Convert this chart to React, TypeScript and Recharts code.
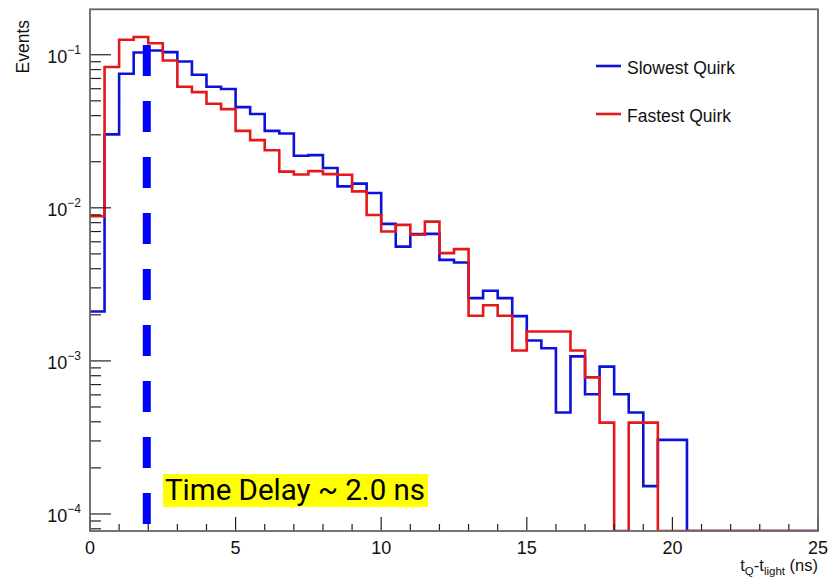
import { LineChart, Line, XAxis, YAxis, ReferenceLine } from "recharts"

// bin low edges (0.5 ns bins)
const BIN_LOW = [
  0, 0.5, 1, 1.5, 2, 2.5, 3, 3.5, 4, 4.5,
  5, 5.5, 6, 6.5, 7, 7.5, 8, 8.5, 9, 9.5,
  10, 10.5, 11, 11.5, 12, 12.5, 13, 13.5, 14, 14.5,
  15, 15.5, 16, 16.5, 17, 17.5, 18, 18.5, 19, 19.5,
  20, 20.5, 21, 21.5, 22, 22.5, 23, 23.5, 24, 24.5,
]
const X_MAX = 25

const SLOWEST = [
  0.0021, 0.0302, 0.0751, 0.1035, 0.1067, 0.104, 0.0904, 0.074, 0.0618, 0.0597,
  0.0455, 0.041, 0.0318, 0.0306, 0.0219, 0.0221, 0.0182, 0.0138, 0.0144, 0.0125,
  0.00785, 0.00558, 0.00673, 0.00676, 0.00457, 0.00439, 0.00257, 0.00287, 0.00257, 0.00196,
  0.00136, 0.00121, 0.00046, 0.00107, 0.000605, 0.000918, 0.000605, 0.00046, 0.000152, 0.000305,
  0.000305, 0, 0, 0, 0, 0, 0, 0, 0, 0,
]

const FASTEST = [
  0.0088, 0.0831, 0.1253, 0.1305, 0.119, 0.0918, 0.0618, 0.057, 0.0478, 0.0441,
  0.0318, 0.0277, 0.0238, 0.01725, 0.01652, 0.01738, 0.0166, 0.01643, 0.0128, 0.00897,
  0.007, 0.00774, 0.00667, 0.00813, 0.00506, 0.00537, 0.00197, 0.00231, 0.00197, 0.00117,
  0.001556, 0.001556, 0.001556, 0.00117, 0.000781, 0.000395, 0, 0.000395, 0.000395, 0,
  0, 0, 0, 0, 0, 0, 0, 0, 0, 0,
]

const X_TICKS = [0, 1, 2, 3, 4, 5, 6, 7, 8, 9, 10, 11, 12, 13, 14, 15, 16, 17, 18, 19, 20, 21, 22, 23, 24, 25]
const Y_TICKS = [
  8e-5, 9e-5,
  1e-4, 2e-4, 3e-4, 4e-4, 5e-4, 6e-4, 7e-4, 8e-4, 9e-4,
  1e-3, 2e-3, 3e-3, 4e-3, 5e-3, 6e-3, 7e-3, 8e-3, 9e-3,
  1e-2, 2e-2, 3e-2, 4e-2, 5e-2, 6e-2, 7e-2, 8e-2, 9e-2,
  1e-1,
]
const Y_MIN = 7.74e-5
const Y_MAX = 0.199

const DELAY = 1.95
const DELAY_TOP = 0.116

const BLUE = "#0d12d9"
const RED = "#e3191e"

// empty bins sit on the bottom of the frame, like ROOT draws them
const floor = (v: number) => (v > 0 ? v : Y_MIN)

const rows = BIN_LOW.map((t, i) => ({ t, slow: floor(SLOWEST[i]), fast: floor(FASTEST[i]) }))
rows.push({ t: X_MAX, slow: floor(SLOWEST[SLOWEST.length - 1]), fast: floor(FASTEST[FASTEST.length - 1]) })

const FONT = "'Liberation Sans', Arial, Helvetica, sans-serif"

function XTick({ x, y, payload }: any) {
  const v = payload.value
  const major = v % 5 === 0
  return (
    <g>
      <line x1={x} x2={x} y1={y} y2={y - (major ? 14 : 7)} stroke="#222" strokeWidth={1.2} />
      {major && (
        <text x={x} y={y + 23} textAnchor="middle" fontSize={18} fill="#111" fontFamily={FONT}>
          {v}
        </text>
      )}
    </g>
  )
}

function YTick({ x, y, payload }: any) {
  const v = payload.value
  const lg = Math.log10(v)
  const exp = Math.round(lg)
  const major = Math.abs(lg - exp) < 1e-6
  return (
    <g>
      <line x1={x} x2={x + (major ? 21 : 11)} y1={y} y2={y} stroke="#222" strokeWidth={1.2} />
      {major && (
        <text x={x - 9} y={y + 8} textAnchor="end" fontSize={18} fill="#111" fontFamily={FONT}>
          10
          <tspan dy={-9} fontSize={12}>{`\u2212${-exp}`}</tspan>
        </text>
      )}
    </g>
  )
}

export default function App() {
  return (
    <div style={{ position: "relative", width: 831, height: 579, background: "#fff" }}>
      <style>{"body{margin:0}"}</style>
      <LineChart
        width={831}
        height={579}
        data={rows}
        margin={{ top: 9, right: 13, bottom: 0, left: 0 }}
      >
        <XAxis
          dataKey="t"
          type="number"
          domain={[0, X_MAX]}
          ticks={X_TICKS}
          interval={0}
          height={48}
          tickSize={0}
          tickMargin={0}
          axisLine={false}
          tickLine={false}
          tick={<XTick />}
        />
        <YAxis
          type="number"
          scale="log"
          domain={[Y_MIN, Y_MAX]}
          allowDataOverflow
          ticks={Y_TICKS}
          interval={0}
          width={90}
          tickSize={0}
          tickMargin={0}
          axisLine={false}
          tickLine={false}
          tick={<YTick />}
        />
        <Line
          type="stepAfter"
          dataKey="slow"
          stroke={BLUE}
          strokeWidth={2.6}
          dot={false}
          isAnimationActive={false}
        />
        <Line
          type="stepAfter"
          dataKey="fast"
          stroke={RED}
          strokeWidth={2.6}
          dot={false}
          isAnimationActive={false}
        />
        <ReferenceLine
          segment={[
            { x: DELAY, y: DELAY_TOP },
            { x: DELAY, y: Y_MIN },
          ]}
          stroke="#0000ff"
          strokeWidth={8}
          strokeDasharray="31 25"
          ifOverflow="visible"
        />
      </LineChart>

      <svg
        width={831}
        height={579}
        style={{ position: "absolute", left: 0, top: 0, pointerEvents: "none" }}
        fontFamily={FONT}
      >
        <rect x={90} y={9.3} width={728} height={521.7} fill="none" stroke="#666" strokeWidth={1.8} />

        <text transform="translate(29,20) rotate(-90)" textAnchor="end" fontSize={17.5} fill="#111">
          Events
        </text>

        <text x={818} y={571} textAnchor="end" fontSize={16.5} fill="#111">
          t<tspan dy={4} fontSize={11.5}>Q</tspan>
          <tspan dy={-4}>-t</tspan>
          <tspan dy={4} fontSize={11.5}>light</tspan>
          <tspan dy={-4}> (ns)</tspan>
        </text>

        <line x1={596} x2={621} y1={66} y2={66} stroke={BLUE} strokeWidth={2.6} />
        <text x={627} y={74} fontSize={17.5} fill="#111">Slowest Quirk</text>
        <line x1={596} x2={621} y1={114} y2={114} stroke={RED} strokeWidth={2.6} />
        <text x={627} y={122} fontSize={17.5} fill="#111">Fastest Quirk</text>

        <rect x={163} y={474} width={265} height={33} fill="#ffff00" />
        <text x={165} y={500} fontSize={29.5} fill="#000" fontFamily="Roboto, sans-serif">
          Time Delay ~ 2.0 ns
        </text>
      </svg>
    </div>
  )
}
